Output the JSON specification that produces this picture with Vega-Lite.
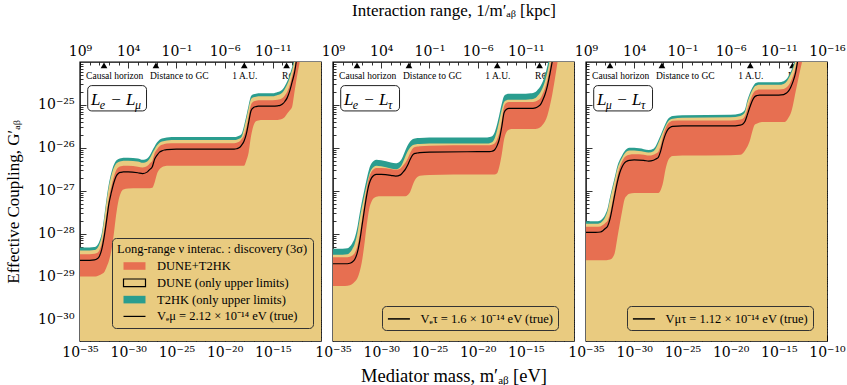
{
"$schema": "https://vega.github.io/schema/vega-lite/v6.json",
"padding": {"left": 3, "top": 0, "right": 0, "bottom": 0},
"bounds": "flush",
"spacing": 12,
"config": {
  "font": "Liberation Serif",
  "view": {"stroke": "black", "strokeWidth": 1.4},
  "axis": {"labelFont": "DejaVu Serif", "titleFont": "Liberation Serif", "labelColor": "black", "titleColor": "black", "titleFontWeight": "normal", "labelFontSize": 14, "titleFontSize": 17, "tickColor": "black", "tickWidth": 0.8, "domain": false, "grid": false, "labelFlush": false, "labelOverlap": false},
  "legend": {"labelFont": "Liberation Serif", "titleFont": "Liberation Serif", "labelColor": "black", "titleColor": "black", "titleFontWeight": "normal"},
  "text": {"font": "Liberation Serif"}
},
"datasets": {
  "sites": [
    {"site": "Causal horizon", "m": -32.51, "mt": -31.4},
    {"site": "Distance to GC", "m": -27.12, "mt": -24.7},
    {"site": "1 A.U.", "m": -17.96, "mt": -17.9},
    {"site": "R⊕", "m": -13.57, "mt": -13.3}
  ],
  "entries": [
    {"entry": "DUNE+T2HK"},
    {"entry": "DUNE (only upper limits)"},
    {"entry": "T2HK (only upper limits)"},
    {"entry": "Vₑμ = 2.12 × 10⁻¹⁴ eV (true)"}
  ],
  "tags": [
    {"p": 1, "kind": "main", "txt": "L", "m": -33.86, "g": -25.0},
    {"p": 1, "kind": "sub", "txt": "e", "m": -32.95, "g": -25.1},
    {"p": 1, "kind": "main", "txt": "− L", "m": -31.85, "g": -25.0},
    {"p": 1, "kind": "sub", "txt": "μ", "m": -29.3, "g": -25.1},
    {"p": 2, "kind": "main", "txt": "L", "m": -33.86, "g": -25.0},
    {"p": 2, "kind": "sub", "txt": "e", "m": -32.95, "g": -25.1},
    {"p": 2, "kind": "main", "txt": "− L", "m": -31.85, "g": -25.0},
    {"p": 2, "kind": "sub", "txt": "τ", "m": -29.3, "g": -25.1},
    {"p": 3, "kind": "main", "txt": "L", "m": -33.86, "g": -25.0},
    {"p": 3, "kind": "sub", "txt": "μ", "m": -32.95, "g": -25.1},
    {"p": 3, "kind": "main", "txt": "− L", "m": -31.85, "g": -25.0},
    {"p": 3, "kind": "sub", "txt": "τ", "m": -29.3, "g": -25.1}
  ],
  "curves": [
{"p":1,"m":-35,"t2hk":-28.32,"dune":-28.39,"hi":-28.48,"v":-28.62,"lo":-29.0},
{"p":1,"m":-34,"t2hk":-28.32,"dune":-28.39,"hi":-28.48,"v":-28.62,"lo":-29.0},
{"p":1,"m":-33.5,"t2hk":-28.31,"dune":-28.38,"hi":-28.47,"v":-28.61,"lo":-29.0},
{"p":1,"m":-33.25,"t2hk":-28.28,"dune":-28.35,"hi":-28.45,"v":-28.59,"lo":-28.99},
{"p":1,"m":-33,"t2hk":-28.18,"dune":-28.25,"hi":-28.39,"v":-28.53,"lo":-28.97},
{"p":1,"m":-32.75,"t2hk":-28.0,"dune":-28.07,"hi":-28.23,"v":-28.37,"lo":-28.94},
{"p":1,"m":-32.5,"t2hk":-27.62,"dune":-27.69,"hi":-27.94,"v":-28.08,"lo":-28.9},
{"p":1,"m":-32.25,"t2hk":-27.19,"dune":-27.26,"hi":-27.56,"v":-27.7,"lo":-28.78},
{"p":1,"m":-32,"t2hk":-26.83,"dune":-26.9,"hi":-27.16,"v":-27.3,"lo":-28.63},
{"p":1,"m":-31.75,"t2hk":-26.58,"dune":-26.65,"hi":-26.9,"v":-27.04,"lo":-28.4},
{"p":1,"m":-31.5,"t2hk":-26.4,"dune":-26.47,"hi":-26.68,"v":-26.82,"lo":-28.02},
{"p":1,"m":-31.25,"t2hk":-26.3,"dune":-26.37,"hi":-26.52,"v":-26.66,"lo":-27.56},
{"p":1,"m":-31,"t2hk":-26.26,"dune":-26.33,"hi":-26.45,"v":-26.59,"lo":-27.22},
{"p":1,"m":-30.75,"t2hk":-26.24,"dune":-26.31,"hi":-26.43,"v":-26.57,"lo":-27.04},
{"p":1,"m":-30.5,"t2hk":-26.23,"dune":-26.3,"hi":-26.42,"v":-26.56,"lo":-26.97},
{"p":1,"m":-30,"t2hk":-26.23,"dune":-26.3,"hi":-26.42,"v":-26.56,"lo":-26.95},
{"p":1,"m":-29,"t2hk":-26.25,"dune":-26.32,"hi":-26.44,"v":-26.58,"lo":-26.94},
{"p":1,"m":-28.5,"t2hk":-26.28,"dune":-26.35,"hi":-26.46,"v":-26.6,"lo":-26.94},
{"p":1,"m":-28,"t2hk":-26.24,"dune":-26.31,"hi":-26.42,"v":-26.56,"lo":-26.94},
{"p":1,"m":-27.75,"t2hk":-26.17,"dune":-26.24,"hi":-26.36,"v":-26.5,"lo":-26.94},
{"p":1,"m":-27.5,"t2hk":-26.06,"dune":-26.13,"hi":-26.3,"v":-26.44,"lo":-26.93},
{"p":1,"m":-27.25,"t2hk":-25.96,"dune":-26.03,"hi":-26.12,"v":-26.26,"lo":-26.8},
{"p":1,"m":-27,"t2hk":-25.87,"dune":-25.94,"hi":-26.03,"v":-26.17,"lo":-26.6},
{"p":1,"m":-26.75,"t2hk":-25.81,"dune":-25.88,"hi":-25.96,"v":-26.1,"lo":-26.5},
{"p":1,"m":-26.5,"t2hk":-25.78,"dune":-25.85,"hi":-25.93,"v":-26.07,"lo":-26.45},
{"p":1,"m":-26.25,"t2hk":-25.77,"dune":-25.84,"hi":-25.91,"v":-26.05,"lo":-26.43},
{"p":1,"m":-26,"t2hk":-25.76,"dune":-25.83,"hi":-25.9,"v":-26.04,"lo":-26.42},
{"p":1,"m":-25,"t2hk":-25.75,"dune":-25.82,"hi":-25.89,"v":-26.03,"lo":-26.42},
{"p":1,"m":-20,"t2hk":-25.75,"dune":-25.82,"hi":-25.89,"v":-26.03,"lo":-26.42},
{"p":1,"m":-19,"t2hk":-25.75,"dune":-25.82,"hi":-25.89,"v":-26.03,"lo":-26.42},
{"p":1,"m":-18.75,"t2hk":-25.74,"dune":-25.81,"hi":-25.88,"v":-26.02,"lo":-26.42},
{"p":1,"m":-18.5,"t2hk":-25.72,"dune":-25.79,"hi":-25.86,"v":-26.0,"lo":-26.42},
{"p":1,"m":-18.25,"t2hk":-25.68,"dune":-25.75,"hi":-25.8,"v":-25.94,"lo":-26.42},
{"p":1,"m":-18,"t2hk":-25.5,"dune":-25.57,"hi":-25.71,"v":-25.85,"lo":-26.42},
{"p":1,"m":-17.75,"t2hk":-25.26,"dune":-25.33,"hi":-25.54,"v":-25.68,"lo":-26.3},
{"p":1,"m":-17.5,"t2hk":-25.0,"dune":-25.07,"hi":-25.26,"v":-25.4,"lo":-26.1},
{"p":1,"m":-17.25,"t2hk":-24.79,"dune":-24.86,"hi":-24.99,"v":-25.13,"lo":-25.72},
{"p":1,"m":-17,"t2hk":-24.75,"dune":-24.82,"hi":-24.92,"v":-25.06,"lo":-25.48},
{"p":1,"m":-16.75,"t2hk":-24.74,"dune":-24.81,"hi":-24.9,"v":-25.04,"lo":-25.38},
{"p":1,"m":-16.5,"t2hk":-24.73,"dune":-24.8,"hi":-24.89,"v":-25.03,"lo":-25.36},
{"p":1,"m":-16,"t2hk":-24.73,"dune":-24.8,"hi":-24.89,"v":-25.03,"lo":-25.35},
{"p":1,"m":-15,"t2hk":-24.73,"dune":-24.8,"hi":-24.89,"v":-25.03,"lo":-25.35},
{"p":1,"m":-14.5,"t2hk":-24.7,"dune":-24.77,"hi":-24.88,"v":-25.02,"lo":-25.35},
{"p":1,"m":-14.25,"t2hk":-24.68,"dune":-24.75,"hi":-24.87,"v":-25.01,"lo":-25.34},
{"p":1,"m":-14,"t2hk":-24.64,"dune":-24.71,"hi":-24.84,"v":-24.98,"lo":-25.32},
{"p":1,"m":-13.75,"t2hk":-24.56,"dune":-24.63,"hi":-24.78,"v":-24.92,"lo":-25.28},
{"p":1,"m":-13.5,"t2hk":-24.45,"dune":-24.52,"hi":-24.69,"v":-24.83,"lo":-25.2},
{"p":1,"m":-13.25,"t2hk":-24.3,"dune":-24.37,"hi":-24.54,"v":-24.68,"lo":-25.13},
{"p":1,"m":-13,"t2hk":-24.12,"dune":-24.19,"hi":-24.33,"v":-24.47,"lo":-25.05},
{"p":1,"m":-12.75,"t2hk":-23.9,"dune":-23.97,"hi":-24.11,"v":-24.25,"lo":-24.7},
{"p":1,"m":-12.5,"t2hk":-23.6,"dune":-23.67,"hi":-23.76,"v":-23.9,"lo":-24.35},
{"p":1,"m":-12.25,"t2hk":-23.3,"dune":-23.37,"hi":-23.46,"v":-23.6,"lo":-24.05},
{"p":1,"m":-12,"t2hk":-23.0,"dune":-23.07,"hi":-23.16,"v":-23.3,"lo":-23.75},
{"p":1,"m":-11.5,"t2hk":-22.4,"dune":-22.47,"hi":-22.56,"v":-22.7,"lo":-23.1},
{"p":1,"m":-11,"t2hk":-21.8,"dune":-21.87,"hi":-21.96,"v":-22.1,"lo":-22.5},
{"p":1,"m":-10,"t2hk":-20.6,"dune":-20.67,"hi":-20.76,"v":-20.9,"lo":-21.3},
{"p":2,"m":-35,"t2hk":-28.35,"dune":-28.49,"hi":-28.55,"v":-28.7,"lo":-29.22},
{"p":2,"m":-34,"t2hk":-28.35,"dune":-28.49,"hi":-28.55,"v":-28.7,"lo":-29.22},
{"p":2,"m":-33.5,"t2hk":-28.34,"dune":-28.48,"hi":-28.55,"v":-28.7,"lo":-29.21},
{"p":2,"m":-33.25,"t2hk":-28.3,"dune":-28.44,"hi":-28.54,"v":-28.69,"lo":-29.2},
{"p":2,"m":-33,"t2hk":-28.22,"dune":-28.36,"hi":-28.51,"v":-28.66,"lo":-29.17},
{"p":2,"m":-32.75,"t2hk":-28.1,"dune":-28.24,"hi":-28.45,"v":-28.6,"lo":-29.12},
{"p":2,"m":-32.5,"t2hk":-27.88,"dune":-28.02,"hi":-28.31,"v":-28.46,"lo":-29.05},
{"p":2,"m":-32.25,"t2hk":-27.55,"dune":-27.69,"hi":-28.05,"v":-28.2,"lo":-28.9},
{"p":2,"m":-32,"t2hk":-27.25,"dune":-27.39,"hi":-27.68,"v":-27.83,"lo":-28.65},
{"p":2,"m":-31.75,"t2hk":-26.98,"dune":-27.12,"hi":-27.3,"v":-27.45,"lo":-28.26},
{"p":2,"m":-31.5,"t2hk":-26.72,"dune":-26.86,"hi":-26.95,"v":-27.1,"lo":-27.8},
{"p":2,"m":-31.25,"t2hk":-26.49,"dune":-26.63,"hi":-26.69,"v":-26.84,"lo":-27.43},
{"p":2,"m":-31,"t2hk":-26.36,"dune":-26.5,"hi":-26.55,"v":-26.7,"lo":-27.25},
{"p":2,"m":-30.75,"t2hk":-26.3,"dune":-26.44,"hi":-26.49,"v":-26.64,"lo":-27.17},
{"p":2,"m":-30.5,"t2hk":-26.28,"dune":-26.42,"hi":-26.47,"v":-26.62,"lo":-27.14},
{"p":2,"m":-30,"t2hk":-26.29,"dune":-26.43,"hi":-26.47,"v":-26.62,"lo":-27.13},
{"p":2,"m":-29,"t2hk":-26.34,"dune":-26.48,"hi":-26.49,"v":-26.64,"lo":-27.13},
{"p":2,"m":-28.5,"t2hk":-26.36,"dune":-26.5,"hi":-26.51,"v":-26.66,"lo":-27.13},
{"p":2,"m":-28,"t2hk":-26.3,"dune":-26.44,"hi":-26.48,"v":-26.63,"lo":-27.13},
{"p":2,"m":-27.75,"t2hk":-26.2,"dune":-26.34,"hi":-26.42,"v":-26.57,"lo":-27.13},
{"p":2,"m":-27.5,"t2hk":-26.06,"dune":-26.2,"hi":-26.35,"v":-26.5,"lo":-27.13},
{"p":2,"m":-27.25,"t2hk":-25.94,"dune":-26.08,"hi":-26.25,"v":-26.4,"lo":-27.1},
{"p":2,"m":-27,"t2hk":-25.85,"dune":-25.99,"hi":-26.12,"v":-26.27,"lo":-27.03},
{"p":2,"m":-26.75,"t2hk":-25.8,"dune":-25.94,"hi":-26.02,"v":-26.17,"lo":-26.88},
{"p":2,"m":-26.5,"t2hk":-25.78,"dune":-25.92,"hi":-25.98,"v":-26.13,"lo":-26.75},
{"p":2,"m":-26.25,"t2hk":-25.77,"dune":-25.91,"hi":-25.97,"v":-26.12,"lo":-26.68},
{"p":2,"m":-26,"t2hk":-25.77,"dune":-25.91,"hi":-25.96,"v":-26.11,"lo":-26.65},
{"p":2,"m":-25,"t2hk":-25.76,"dune":-25.9,"hi":-25.95,"v":-26.1,"lo":-26.63},
{"p":2,"m":-20,"t2hk":-25.76,"dune":-25.9,"hi":-25.94,"v":-26.09,"lo":-26.62},
{"p":2,"m":-19,"t2hk":-25.76,"dune":-25.9,"hi":-25.94,"v":-26.09,"lo":-26.62},
{"p":2,"m":-18.75,"t2hk":-25.75,"dune":-25.89,"hi":-25.94,"v":-26.09,"lo":-26.62},
{"p":2,"m":-18.5,"t2hk":-25.73,"dune":-25.87,"hi":-25.93,"v":-26.08,"lo":-26.62},
{"p":2,"m":-18.25,"t2hk":-25.65,"dune":-25.79,"hi":-25.9,"v":-26.05,"lo":-26.62},
{"p":2,"m":-18,"t2hk":-25.47,"dune":-25.61,"hi":-25.81,"v":-25.96,"lo":-26.6},
{"p":2,"m":-17.75,"t2hk":-25.23,"dune":-25.37,"hi":-25.65,"v":-25.8,"lo":-26.44},
{"p":2,"m":-17.5,"t2hk":-24.98,"dune":-25.12,"hi":-25.37,"v":-25.52,"lo":-26.16},
{"p":2,"m":-17.25,"t2hk":-24.79,"dune":-24.93,"hi":-25.03,"v":-25.18,"lo":-25.8},
{"p":2,"m":-17,"t2hk":-24.75,"dune":-24.89,"hi":-24.95,"v":-25.1,"lo":-25.63},
{"p":2,"m":-16.75,"t2hk":-24.74,"dune":-24.88,"hi":-24.93,"v":-25.08,"lo":-25.58},
{"p":2,"m":-16.5,"t2hk":-24.74,"dune":-24.88,"hi":-24.93,"v":-25.08,"lo":-25.56},
{"p":2,"m":-16,"t2hk":-24.74,"dune":-24.88,"hi":-24.93,"v":-25.08,"lo":-25.56},
{"p":2,"m":-15,"t2hk":-24.74,"dune":-24.88,"hi":-24.93,"v":-25.08,"lo":-25.56},
{"p":2,"m":-14.5,"t2hk":-24.73,"dune":-24.87,"hi":-24.93,"v":-25.08,"lo":-25.56},
{"p":2,"m":-14.25,"t2hk":-24.72,"dune":-24.86,"hi":-24.93,"v":-25.08,"lo":-25.56},
{"p":2,"m":-14,"t2hk":-24.7,"dune":-24.84,"hi":-24.92,"v":-25.07,"lo":-25.56},
{"p":2,"m":-13.75,"t2hk":-24.64,"dune":-24.78,"hi":-24.89,"v":-25.04,"lo":-25.55},
{"p":2,"m":-13.5,"t2hk":-24.57,"dune":-24.71,"hi":-24.85,"v":-25.0,"lo":-25.52},
{"p":2,"m":-13.25,"t2hk":-24.46,"dune":-24.6,"hi":-24.74,"v":-24.89,"lo":-25.46},
{"p":2,"m":-13,"t2hk":-24.3,"dune":-24.44,"hi":-24.6,"v":-24.75,"lo":-25.38},
{"p":2,"m":-12.75,"t2hk":-24.08,"dune":-24.22,"hi":-24.4,"v":-24.55,"lo":-25.24},
{"p":2,"m":-12.5,"t2hk":-23.8,"dune":-23.94,"hi":-24.13,"v":-24.28,"lo":-25.02},
{"p":2,"m":-12.25,"t2hk":-23.5,"dune":-23.64,"hi":-23.83,"v":-23.98,"lo":-24.75},
{"p":2,"m":-12,"t2hk":-23.2,"dune":-23.34,"hi":-23.5,"v":-23.65,"lo":-24.42},
{"p":2,"m":-11.5,"t2hk":-22.6,"dune":-22.74,"hi":-22.85,"v":-23.0,"lo":-23.7},
{"p":2,"m":-11,"t2hk":-22.0,"dune":-22.14,"hi":-22.25,"v":-22.4,"lo":-23.0},
{"p":2,"m":-10,"t2hk":-20.8,"dune":-20.94,"hi":-21.05,"v":-21.2,"lo":-21.8},
{"p":3,"m":-35,"t2hk":-27.71,"dune":-27.77,"hi":-27.84,"v":-27.97,"lo":-28.62},
{"p":3,"m":-34,"t2hk":-27.71,"dune":-27.77,"hi":-27.84,"v":-27.97,"lo":-28.62},
{"p":3,"m":-33.5,"t2hk":-27.69,"dune":-27.75,"hi":-27.83,"v":-27.96,"lo":-28.62},
{"p":3,"m":-33.25,"t2hk":-27.64,"dune":-27.7,"hi":-27.8,"v":-27.93,"lo":-28.62},
{"p":3,"m":-33,"t2hk":-27.55,"dune":-27.61,"hi":-27.75,"v":-27.88,"lo":-28.62},
{"p":3,"m":-32.75,"t2hk":-27.4,"dune":-27.46,"hi":-27.69,"v":-27.82,"lo":-28.61},
{"p":3,"m":-32.5,"t2hk":-27.14,"dune":-27.2,"hi":-27.52,"v":-27.65,"lo":-28.6},
{"p":3,"m":-32.25,"t2hk":-26.9,"dune":-26.96,"hi":-27.24,"v":-27.37,"lo":-28.56},
{"p":3,"m":-32,"t2hk":-26.67,"dune":-26.73,"hi":-26.94,"v":-27.07,"lo":-28.43},
{"p":3,"m":-31.75,"t2hk":-26.43,"dune":-26.49,"hi":-26.67,"v":-26.8,"lo":-28.1},
{"p":3,"m":-31.5,"t2hk":-26.28,"dune":-26.34,"hi":-26.45,"v":-26.58,"lo":-27.78},
{"p":3,"m":-31.25,"t2hk":-26.17,"dune":-26.23,"hi":-26.31,"v":-26.44,"lo":-27.47},
{"p":3,"m":-31,"t2hk":-26.08,"dune":-26.14,"hi":-26.22,"v":-26.35,"lo":-27.2},
{"p":3,"m":-30.75,"t2hk":-26.02,"dune":-26.08,"hi":-26.18,"v":-26.31,"lo":-27.11},
{"p":3,"m":-30.5,"t2hk":-26.0,"dune":-26.06,"hi":-26.16,"v":-26.29,"lo":-27.07},
{"p":3,"m":-30,"t2hk":-26.0,"dune":-26.06,"hi":-26.15,"v":-26.28,"lo":-27.05},
{"p":3,"m":-29,"t2hk":-26.03,"dune":-26.09,"hi":-26.16,"v":-26.29,"lo":-27.05},
{"p":3,"m":-28.5,"t2hk":-26.05,"dune":-26.11,"hi":-26.18,"v":-26.31,"lo":-27.05},
{"p":3,"m":-28,"t2hk":-26.02,"dune":-26.08,"hi":-26.16,"v":-26.29,"lo":-27.05},
{"p":3,"m":-27.75,"t2hk":-25.95,"dune":-26.01,"hi":-26.13,"v":-26.26,"lo":-27.05},
{"p":3,"m":-27.5,"t2hk":-25.83,"dune":-25.89,"hi":-26.09,"v":-26.22,"lo":-27.05},
{"p":3,"m":-27.25,"t2hk":-25.7,"dune":-25.76,"hi":-25.94,"v":-26.07,"lo":-26.98},
{"p":3,"m":-27,"t2hk":-25.56,"dune":-25.62,"hi":-25.72,"v":-25.85,"lo":-26.8},
{"p":3,"m":-26.75,"t2hk":-25.43,"dune":-25.49,"hi":-25.55,"v":-25.68,"lo":-26.5},
{"p":3,"m":-26.5,"t2hk":-25.33,"dune":-25.39,"hi":-25.44,"v":-25.57,"lo":-26.3},
{"p":3,"m":-26.25,"t2hk":-25.28,"dune":-25.34,"hi":-25.39,"v":-25.52,"lo":-26.22},
{"p":3,"m":-26,"t2hk":-25.26,"dune":-25.32,"hi":-25.37,"v":-25.5,"lo":-26.19},
{"p":3,"m":-25,"t2hk":-25.24,"dune":-25.3,"hi":-25.36,"v":-25.49,"lo":-26.18},
{"p":3,"m":-20,"t2hk":-25.23,"dune":-25.29,"hi":-25.36,"v":-25.49,"lo":-26.17},
{"p":3,"m":-19,"t2hk":-25.2,"dune":-25.26,"hi":-25.34,"v":-25.47,"lo":-26.16},
{"p":3,"m":-18.75,"t2hk":-25.17,"dune":-25.23,"hi":-25.32,"v":-25.45,"lo":-26.13},
{"p":3,"m":-18.5,"t2hk":-25.1,"dune":-25.16,"hi":-25.25,"v":-25.38,"lo":-26.06},
{"p":3,"m":-18.25,"t2hk":-24.88,"dune":-24.94,"hi":-25.09,"v":-25.22,"lo":-25.97},
{"p":3,"m":-18,"t2hk":-24.72,"dune":-24.78,"hi":-24.92,"v":-25.05,"lo":-25.83},
{"p":3,"m":-17.75,"t2hk":-24.6,"dune":-24.66,"hi":-24.77,"v":-24.9,"lo":-25.62},
{"p":3,"m":-17.5,"t2hk":-24.51,"dune":-24.57,"hi":-24.68,"v":-24.81,"lo":-25.46},
{"p":3,"m":-17.25,"t2hk":-24.48,"dune":-24.54,"hi":-24.65,"v":-24.78,"lo":-25.43},
{"p":3,"m":-17,"t2hk":-24.47,"dune":-24.53,"hi":-24.64,"v":-24.77,"lo":-25.41},
{"p":3,"m":-16.75,"t2hk":-24.47,"dune":-24.53,"hi":-24.64,"v":-24.77,"lo":-25.4},
{"p":3,"m":-16.5,"t2hk":-24.47,"dune":-24.53,"hi":-24.64,"v":-24.77,"lo":-25.4},
{"p":3,"m":-16,"t2hk":-24.47,"dune":-24.53,"hi":-24.64,"v":-24.77,"lo":-25.4},
{"p":3,"m":-15,"t2hk":-24.47,"dune":-24.53,"hi":-24.64,"v":-24.77,"lo":-25.4},
{"p":3,"m":-14.5,"t2hk":-24.45,"dune":-24.51,"hi":-24.63,"v":-24.76,"lo":-25.4},
{"p":3,"m":-14.25,"t2hk":-24.41,"dune":-24.47,"hi":-24.6,"v":-24.73,"lo":-25.38},
{"p":3,"m":-14,"t2hk":-24.33,"dune":-24.39,"hi":-24.55,"v":-24.68,"lo":-25.3},
{"p":3,"m":-13.75,"t2hk":-24.22,"dune":-24.28,"hi":-24.45,"v":-24.58,"lo":-25.19},
{"p":3,"m":-13.5,"t2hk":-24.08,"dune":-24.14,"hi":-24.31,"v":-24.44,"lo":-24.97},
{"p":3,"m":-13.25,"t2hk":-23.9,"dune":-23.96,"hi":-24.11,"v":-24.24,"lo":-24.69},
{"p":3,"m":-13,"t2hk":-23.7,"dune":-23.76,"hi":-23.79,"v":-23.92,"lo":-24.42},
{"p":3,"m":-12.75,"t2hk":-23.45,"dune":-23.51,"hi":-23.49,"v":-23.62,"lo":-24.16},
{"p":3,"m":-12.5,"t2hk":-23.2,"dune":-23.26,"hi":-23.22,"v":-23.35,"lo":-23.9},
{"p":3,"m":-12.25,"t2hk":-22.9,"dune":-22.96,"hi":-22.94,"v":-23.07,"lo":-23.62},
{"p":3,"m":-12,"t2hk":-22.6,"dune":-22.66,"hi":-22.67,"v":-22.8,"lo":-23.35},
{"p":3,"m":-11.5,"t2hk":-22.0,"dune":-22.06,"hi":-22.07,"v":-22.2,"lo":-22.8},
{"p":3,"m":-11,"t2hk":-21.4,"dune":-21.46,"hi":-21.47,"v":-21.6,"lo":-22.2},
{"p":3,"m":-10,"t2hk":-20.2,"dune":-20.26,"hi":-20.27,"v":-20.4,"lo":-21.0}
  ]
},
"resolve": {"scale": {"fill": "independent", "stroke": "independent", "shape": "independent"}, "legend": {"fill": "independent", "stroke": "independent", "shape": "independent"}},
"hconcat": [
{
  "width": 241, "height": 279,
  "resolve": {"axis": {"x": "independent", "y": "independent"}},
  "layer": [
    {"data": {"name": "sites"}, "mark": {"type": "point", "shape": "triangle-up", "filled": true, "color": "black", "size": 45, "opacity": 1},
     "encoding": {"x": {"field": "m", "type": "quantitative", "scale": {"domain": [-35, -10], "nice": false, "zero": false}, "axis": null},
                  "y": {"datum": -24.08, "type": "quantitative", "scale": {"domain": [-30.5, -24], "nice": false, "zero": false}, "axis": null}}},
    {"data": {"name": "sites"}, "mark": {"type": "text", "fontSize": 9.5, "baseline": "middle", "color": "black"},
     "encoding": {"x": {"field": "mt", "type": "quantitative", "axis": null}, "y": {"datum": -24.33, "type": "quantitative", "axis": null}, "text": {"field": "site"}}},
    {"data": {"name": "curves"}, "transform": [{"filter": "datum.p === 1"}],
     "mark": {"type": "area", "clip": true, "interpolate": "monotone", "fill": "#2A9D8F"},
     "encoding": {
       "x": {"field": "m", "type": "quantitative", "axis": {"orient": "bottom", "title": null, "values": [-35,-30,-25,-20,-15], "labelExpr": "datum.value === -35 ? '10⁻³⁵' : datum.value === -30 ? '10⁻³⁰' : datum.value === -25 ? '10⁻²⁵' : datum.value === -20 ? '10⁻²⁰' : datum.value === -15 ? '10⁻¹⁵' : ''", "offset": -6, "tickSize": 6, "labelPadding": 4}},
       "y": {"field": "t2hk", "type": "quantitative", "axis": {"orient": "left", "title": "Effective Coupling, G′ₐᵦ", "titlePadding": 15, "values": [-30,-29,-28,-27,-26,-25], "labelExpr": "datum.value === -25 ? '10⁻²⁵' : datum.value === -26 ? '10⁻²⁶' : datum.value === -27 ? '10⁻²⁷' : datum.value === -28 ? '10⁻²⁸' : datum.value === -29 ? '10⁻²⁹' : datum.value === -30 ? '10⁻³⁰' : ''", "offset": -6, "tickSize": 6, "labelPadding": 6}},
       "y2": {"datum": -31}
     }},
    {"data": {"name": "curves"}, "transform": [{"filter": "datum.p === 1"}],
     "mark": {"type": "area", "clip": true, "interpolate": "monotone", "fill": "#E9CB80"},
     "encoding": {"x": {"field": "m", "type": "quantitative", "axis": {"orient": "bottom", "title": null, "labels": false, "values": [-34,-33,-32,-31,-29,-28,-27,-26,-24,-23,-22,-21,-19,-18,-17,-16,-14,-13,-12,-11], "offset": -3, "tickSize": 3}},
       "y": {"field": "dune", "type": "quantitative", "axis": {"orient": "left", "title": null, "labels": false, "values": [-30.398,-30.301,-30.222,-30.155,-30.097,-30.046,-29.699,-29.523,-29.398,-29.301,-29.222,-29.155,-29.097,-29.046,-28.699,-28.523,-28.398,-28.301,-28.222,-28.155,-28.097,-28.046,-27.699,-27.523,-27.398,-27.301,-27.222,-27.155,-27.097,-27.046,-26.699,-26.523,-26.398,-26.301,-26.222,-26.155,-26.097,-26.046,-25.699,-25.523,-25.398,-25.301,-25.222,-25.155,-25.097,-25.046,-24.699,-24.523,-24.398,-24.301,-24.222,-24.155,-24.097,-24.046], "offset": -3, "tickSize": 3}},
       "y2": {"datum": -31}}},
    {"data": {"name": "curves"}, "transform": [{"filter": "datum.p === 1"}],
     "mark": {"type": "area", "clip": true, "interpolate": "monotone", "fill": "#E76F51"},
     "encoding": {"x": {"field": "m", "type": "quantitative", "axis": {"orient": "top", "title": null, "values": [-35,-30,-25,-20,-15], "labelExpr": "datum.value === -35 ? '10⁹' : datum.value === -30 ? '10⁴' : datum.value === -25 ? '10⁻¹' : datum.value === -20 ? '10⁻⁶' : datum.value === -15 ? '10⁻¹¹' : ''", "offset": -6, "tickSize": 6, "labelPadding": 4}},
       "y": {"field": "hi", "type": "quantitative", "axis": {"orient": "right", "title": null, "labels": false, "values": [-30,-29,-28,-27,-26,-25], "offset": -6, "tickSize": 6}},
       "y2": {"field": "lo"}}},
    {"data": {"name": "curves"}, "transform": [{"filter": "datum.p === 1"}],
     "mark": {"type": "line", "clip": true, "interpolate": "monotone", "color": "black", "strokeWidth": 1.2},
     "encoding": {
       "x": {"field": "m", "type": "quantitative", "axis": {"orient": "top", "title": null, "labels": false, "values": [-34,-33,-32,-31,-29,-28,-27,-26,-24,-23,-22,-21,-19,-18,-17,-16,-14,-13,-12,-11], "offset": -3, "tickSize": 3}},
       "y": {"field": "v", "type": "quantitative", "axis": {"orient": "right", "title": null, "labels": false, "values": [-30.398,-30.301,-30.222,-30.155,-30.097,-30.046,-29.699,-29.523,-29.398,-29.301,-29.222,-29.155,-29.097,-29.046,-28.699,-28.523,-28.398,-28.301,-28.222,-28.155,-28.097,-28.046,-27.699,-27.523,-27.398,-27.301,-27.222,-27.155,-27.097,-27.046,-26.699,-26.523,-26.398,-26.301,-26.222,-26.155,-26.097,-26.046,-25.699,-25.523,-25.398,-25.301,-25.222,-25.155,-25.097,-25.046,-24.699,-24.523,-24.398,-24.301,-24.222,-24.155,-24.097,-24.046], "offset": -3, "tickSize": 3}}
     }},
    {"data": {"name": "entries"},
     "mark": {"type": "point", "clip": true, "filled": true, "opacity": 1, "size": 230, "strokeWidth": 1.2},
     "encoding": {
       "x": {"datum": -40, "type": "quantitative", "axis": null},
       "y": {"datum": -40, "type": "quantitative", "axis": null},
       "shape": {"field": "entry", "type": "nominal",
         "scale": {"domain": ["DUNE+T2HK", "DUNE (only upper limits)", "T2HK (only upper limits)", "Vₑμ = 2.12 × 10⁻¹⁴ eV (true)"], "range": ["M-1.45,-0.5H1.45V0.5H-1.45Z", "M-1.45,-0.5H1.45V0.5H-1.45Z", "M-1.45,-0.5H1.45V0.5H-1.45Z", "M-1.45,0H1.45"]},
         "legend": {"title": "Long-range ν interac. : discovery (3σ)", "orient": "none", "legendX": 32, "legendY": 176, "titleLimit": 400, "labelLimit": 400, "titleFontSize": 12.5, "titlePadding": 2, "labelFontSize": 12.5, "labelOffset": 14, "symbolSize": 230, "symbolStrokeWidth": 1.2, "symbolOffset": 9, "rowPadding": 1.8, "padding": 5, "fillColor": "#E9CB80", "strokeColor": "#333333", "cornerRadius": 4}},
       "fill": {"field": "entry", "type": "nominal",
         "scale": {"domain": ["DUNE+T2HK", "DUNE (only upper limits)", "T2HK (only upper limits)", "Vₑμ = 2.12 × 10⁻¹⁴ eV (true)"], "range": ["#E76F51", "#E9CB80", "#2A9D8F", "transparent"]},
         "legend": {"title": "Long-range ν interac. : discovery (3σ)", "orient": "none", "legendX": 32, "legendY": 176, "titleLimit": 400, "labelLimit": 400, "titleFontSize": 12.5, "titlePadding": 2, "labelFontSize": 12.5, "labelOffset": 14, "symbolSize": 230, "symbolStrokeWidth": 1.2, "symbolOffset": 9, "rowPadding": 1.8, "padding": 5, "fillColor": "#E9CB80", "strokeColor": "#333333", "cornerRadius": 4}},
       "stroke": {"field": "entry", "type": "nominal",
         "scale": {"domain": ["DUNE+T2HK", "DUNE (only upper limits)", "T2HK (only upper limits)", "Vₑμ = 2.12 × 10⁻¹⁴ eV (true)"], "range": ["transparent", "#000000", "transparent", "#000000"]},
         "legend": {"title": "Long-range ν interac. : discovery (3σ)", "orient": "none", "legendX": 32, "legendY": 176, "titleLimit": 400, "labelLimit": 400, "titleFontSize": 12.5, "titlePadding": 2, "labelFontSize": 12.5, "labelOffset": 14, "symbolSize": 230, "symbolStrokeWidth": 1.2, "symbolOffset": 9, "rowPadding": 1.8, "padding": 5, "fillColor": "#E9CB80", "strokeColor": "#333333", "cornerRadius": 4}}
     }},
    {"data": {"values": [{}]}, "mark": {"type": "rect", "fill": "white", "stroke": "#222222", "strokeWidth": 1, "cornerRadius": 4},
     "encoding": {"x": {"datum": -34.2, "type": "quantitative", "axis": null}, "x2": {"datum": -28.1}, "y": {"datum": -24.55, "type": "quantitative", "axis": null}, "y2": {"datum": -25.14}}},
    {"data": {"name": "tags"}, "transform": [{"filter": "datum.p === 1 && datum.kind === 'main'"}],
     "mark": {"type": "text", "fontSize": 17, "fontStyle": "italic", "align": "left", "baseline": "alphabetic", "color": "black"},
     "encoding": {"x": {"field": "m", "type": "quantitative", "axis": null}, "y": {"field": "g", "type": "quantitative", "axis": null}, "text": {"field": "txt"}}},
    {"data": {"name": "tags"}, "transform": [{"filter": "datum.p === 1 && datum.kind === 'sub'"}],
     "mark": {"type": "text", "fontSize": 12, "fontStyle": "italic", "align": "left", "baseline": "alphabetic", "color": "black"},
     "encoding": {"x": {"field": "m", "type": "quantitative", "axis": null}, "y": {"field": "g", "type": "quantitative", "axis": null}, "text": {"field": "txt"}}}
  ]
},
{
  "width": 241, "height": 279,
  "resolve": {"axis": {"x": "independent", "y": "independent"}},
  "layer": [
    {"data": {"name": "sites"}, "mark": {"type": "point", "shape": "triangle-up", "filled": true, "color": "black", "size": 45, "opacity": 1},
     "encoding": {"x": {"field": "m", "type": "quantitative", "scale": {"domain": [-35, -10], "nice": false, "zero": false}, "axis": null},
                  "y": {"datum": -24.08, "type": "quantitative", "scale": {"domain": [-30.5, -24], "nice": false, "zero": false}, "axis": null}}},
    {"data": {"name": "sites"}, "mark": {"type": "text", "fontSize": 9.5, "baseline": "middle", "color": "black"},
     "encoding": {"x": {"field": "mt", "type": "quantitative", "axis": null}, "y": {"datum": -24.33, "type": "quantitative", "axis": null}, "text": {"field": "site"}}},
    {"data": {"name": "curves"}, "transform": [{"filter": "datum.p === 2"}],
     "mark": {"type": "area", "clip": true, "interpolate": "monotone", "fill": "#2A9D8F"},
     "encoding": {
       "x": {"field": "m", "type": "quantitative", "axis": {"orient": "bottom", "title": "Mediator mass, m′ₐᵦ [eV]", "titleFontSize": 18.5, "titlePadding": 7, "values": [-35,-30,-25,-20,-15], "labelExpr": "datum.value === -35 ? '10⁻³⁵' : datum.value === -30 ? '10⁻³⁰' : datum.value === -25 ? '10⁻²⁵' : datum.value === -20 ? '10⁻²⁰' : datum.value === -15 ? '10⁻¹⁵' : ''", "offset": -6, "tickSize": 6, "labelPadding": 4}},
       "y": {"field": "t2hk", "type": "quantitative", "axis": {"orient": "left", "title": null, "labels": false, "values": [-30,-29,-28,-27,-26,-25], "offset": -6, "tickSize": 6}},
       "y2": {"datum": -31}
     }},
    {"data": {"name": "curves"}, "transform": [{"filter": "datum.p === 2"}],
     "mark": {"type": "area", "clip": true, "interpolate": "monotone", "fill": "#E9CB80"},
     "encoding": {"x": {"field": "m", "type": "quantitative", "axis": {"orient": "bottom", "title": null, "labels": false, "values": [-34,-33,-32,-31,-29,-28,-27,-26,-24,-23,-22,-21,-19,-18,-17,-16,-14,-13,-12,-11], "offset": -3, "tickSize": 3}},
       "y": {"field": "dune", "type": "quantitative", "axis": {"orient": "left", "title": null, "labels": false, "values": [-30.398,-30.301,-30.222,-30.155,-30.097,-30.046,-29.699,-29.523,-29.398,-29.301,-29.222,-29.155,-29.097,-29.046,-28.699,-28.523,-28.398,-28.301,-28.222,-28.155,-28.097,-28.046,-27.699,-27.523,-27.398,-27.301,-27.222,-27.155,-27.097,-27.046,-26.699,-26.523,-26.398,-26.301,-26.222,-26.155,-26.097,-26.046,-25.699,-25.523,-25.398,-25.301,-25.222,-25.155,-25.097,-25.046,-24.699,-24.523,-24.398,-24.301,-24.222,-24.155,-24.097,-24.046], "offset": -3, "tickSize": 3}},
       "y2": {"datum": -31}}},
    {"data": {"name": "curves"}, "transform": [{"filter": "datum.p === 2"}],
     "mark": {"type": "area", "clip": true, "interpolate": "monotone", "fill": "#E76F51"},
     "encoding": {"x": {"field": "m", "type": "quantitative", "axis": {"orient": "top", "title": "Interaction range, 1/m′ₐᵦ [kpc]", "titlePadding": 25, "values": [-35,-30,-25,-20,-15], "labelExpr": "datum.value === -35 ? '10⁹' : datum.value === -30 ? '10⁴' : datum.value === -25 ? '10⁻¹' : datum.value === -20 ? '10⁻⁶' : datum.value === -15 ? '10⁻¹¹' : ''", "offset": -6, "tickSize": 6, "labelPadding": 4}},
       "y": {"field": "hi", "type": "quantitative", "axis": {"orient": "right", "title": null, "labels": false, "values": [-30,-29,-28,-27,-26,-25], "offset": -6, "tickSize": 6}},
       "y2": {"field": "lo"}}},
    {"data": {"name": "curves"}, "transform": [{"filter": "datum.p === 2"}],
     "mark": {"type": "line", "clip": true, "interpolate": "monotone", "strokeWidth": 1.2},
     "encoding": {
       "x": {"field": "m", "type": "quantitative", "axis": {"orient": "top", "title": null, "labels": false, "values": [-34,-33,-32,-31,-29,-28,-27,-26,-24,-23,-22,-21,-19,-18,-17,-16,-14,-13,-12,-11], "offset": -3, "tickSize": 3}},
       "y": {"field": "v", "type": "quantitative", "axis": {"orient": "right", "title": null, "labels": false, "values": [-30.398,-30.301,-30.222,-30.155,-30.097,-30.046,-29.699,-29.523,-29.398,-29.301,-29.222,-29.155,-29.097,-29.046,-28.699,-28.523,-28.398,-28.301,-28.222,-28.155,-28.097,-28.046,-27.699,-27.523,-27.398,-27.301,-27.222,-27.155,-27.097,-27.046,-26.699,-26.523,-26.398,-26.301,-26.222,-26.155,-26.097,-26.046,-25.699,-25.523,-25.398,-25.301,-25.222,-25.155,-25.097,-25.046,-24.699,-24.523,-24.398,-24.301,-24.222,-24.155,-24.097,-24.046], "offset": -3, "tickSize": 3}},
       "stroke": {"datum": "Vₑτ = 1.6 × 10⁻¹⁴ eV (true)", "type": "nominal", "scale": {"range": ["#000000"]},
         "legend": {"title": null, "orient": "none", "legendX": 49, "legendY": 244, "symbolType": "M-1.45,0H1.45", "symbolSize": 230, "symbolStrokeWidth": 1.5, "labelFontSize": 12.5, "labelLimit": 400, "padding": 4.4, "symbolOffset": 4, "labelOffset": 13, "fillColor": "#E9CB80", "strokeColor": "#333333", "cornerRadius": 4}}
     }},
    {"data": {"values": [{}]}, "mark": {"type": "rect", "fill": "white", "stroke": "#222222", "strokeWidth": 1, "cornerRadius": 4},
     "encoding": {"x": {"datum": -34.2, "type": "quantitative", "axis": null}, "x2": {"datum": -28.1}, "y": {"datum": -24.55, "type": "quantitative", "axis": null}, "y2": {"datum": -25.14}}},
    {"data": {"name": "tags"}, "transform": [{"filter": "datum.p === 2 && datum.kind === 'main'"}],
     "mark": {"type": "text", "fontSize": 17, "fontStyle": "italic", "align": "left", "baseline": "alphabetic", "color": "black"},
     "encoding": {"x": {"field": "m", "type": "quantitative", "axis": null}, "y": {"field": "g", "type": "quantitative", "axis": null}, "text": {"field": "txt"}}},
    {"data": {"name": "tags"}, "transform": [{"filter": "datum.p === 2 && datum.kind === 'sub'"}],
     "mark": {"type": "text", "fontSize": 12, "fontStyle": "italic", "align": "left", "baseline": "alphabetic", "color": "black"},
     "encoding": {"x": {"field": "m", "type": "quantitative", "axis": null}, "y": {"field": "g", "type": "quantitative", "axis": null}, "text": {"field": "txt"}}}
  ]
},
{
  "width": 241, "height": 279,
  "resolve": {"axis": {"x": "independent", "y": "independent"}},
  "layer": [
    {"data": {"name": "sites"}, "mark": {"type": "point", "shape": "triangle-up", "filled": true, "color": "black", "size": 45, "opacity": 1},
     "encoding": {"x": {"field": "m", "type": "quantitative", "scale": {"domain": [-35, -10], "nice": false, "zero": false}, "axis": null},
                  "y": {"datum": -24.08, "type": "quantitative", "scale": {"domain": [-30.5, -24], "nice": false, "zero": false}, "axis": null}}},
    {"data": {"name": "sites"}, "mark": {"type": "text", "fontSize": 9.5, "baseline": "middle", "color": "black"},
     "encoding": {"x": {"field": "mt", "type": "quantitative", "axis": null}, "y": {"datum": -24.33, "type": "quantitative", "axis": null}, "text": {"field": "site"}}},
    {"data": {"name": "curves"}, "transform": [{"filter": "datum.p === 3"}],
     "mark": {"type": "area", "clip": true, "interpolate": "monotone", "fill": "#2A9D8F"},
     "encoding": {
       "x": {"field": "m", "type": "quantitative", "axis": {"orient": "bottom", "title": null, "values": [-35,-30,-25,-20,-15,-10], "labelExpr": "datum.value === -35 ? '10⁻³⁵' : datum.value === -30 ? '10⁻³⁰' : datum.value === -25 ? '10⁻²⁵' : datum.value === -20 ? '10⁻²⁰' : datum.value === -15 ? '10⁻¹⁵' : datum.value === -10 ? '10⁻¹⁰' : ''", "offset": -6, "tickSize": 6, "labelPadding": 4}},
       "y": {"field": "t2hk", "type": "quantitative", "axis": {"orient": "left", "title": null, "labels": false, "values": [-30,-29,-28,-27,-26,-25], "offset": -6, "tickSize": 6}},
       "y2": {"datum": -31}
     }},
    {"data": {"name": "curves"}, "transform": [{"filter": "datum.p === 3"}],
     "mark": {"type": "area", "clip": true, "interpolate": "monotone", "fill": "#E9CB80"},
     "encoding": {"x": {"field": "m", "type": "quantitative", "axis": {"orient": "bottom", "title": null, "labels": false, "values": [-34,-33,-32,-31,-29,-28,-27,-26,-24,-23,-22,-21,-19,-18,-17,-16,-14,-13,-12,-11], "offset": -3, "tickSize": 3}},
       "y": {"field": "dune", "type": "quantitative", "axis": {"orient": "left", "title": null, "labels": false, "values": [-30.398,-30.301,-30.222,-30.155,-30.097,-30.046,-29.699,-29.523,-29.398,-29.301,-29.222,-29.155,-29.097,-29.046,-28.699,-28.523,-28.398,-28.301,-28.222,-28.155,-28.097,-28.046,-27.699,-27.523,-27.398,-27.301,-27.222,-27.155,-27.097,-27.046,-26.699,-26.523,-26.398,-26.301,-26.222,-26.155,-26.097,-26.046,-25.699,-25.523,-25.398,-25.301,-25.222,-25.155,-25.097,-25.046,-24.699,-24.523,-24.398,-24.301,-24.222,-24.155,-24.097,-24.046], "offset": -3, "tickSize": 3}},
       "y2": {"datum": -31}}},
    {"data": {"name": "curves"}, "transform": [{"filter": "datum.p === 3"}],
     "mark": {"type": "area", "clip": true, "interpolate": "monotone", "fill": "#E76F51"},
     "encoding": {"x": {"field": "m", "type": "quantitative", "axis": {"orient": "top", "title": null, "values": [-35,-30,-25,-20,-15,-10], "labelExpr": "datum.value === -35 ? '10⁹' : datum.value === -30 ? '10⁴' : datum.value === -25 ? '10⁻¹' : datum.value === -20 ? '10⁻⁶' : datum.value === -15 ? '10⁻¹¹' : datum.value === -10 ? '10⁻¹⁶' : ''", "offset": -6, "tickSize": 6, "labelPadding": 4}},
       "y": {"field": "hi", "type": "quantitative", "axis": {"orient": "right", "title": null, "labels": false, "values": [-30,-29,-28,-27,-26,-25], "offset": -6, "tickSize": 6}},
       "y2": {"field": "lo"}}},
    {"data": {"name": "curves"}, "transform": [{"filter": "datum.p === 3"}],
     "mark": {"type": "line", "clip": true, "interpolate": "monotone", "strokeWidth": 1.2},
     "encoding": {
       "x": {"field": "m", "type": "quantitative", "axis": {"orient": "top", "title": null, "labels": false, "values": [-34,-33,-32,-31,-29,-28,-27,-26,-24,-23,-22,-21,-19,-18,-17,-16,-14,-13,-12,-11], "offset": -3, "tickSize": 3}},
       "y": {"field": "v", "type": "quantitative", "axis": {"orient": "right", "title": null, "labels": false, "values": [-30.398,-30.301,-30.222,-30.155,-30.097,-30.046,-29.699,-29.523,-29.398,-29.301,-29.222,-29.155,-29.097,-29.046,-28.699,-28.523,-28.398,-28.301,-28.222,-28.155,-28.097,-28.046,-27.699,-27.523,-27.398,-27.301,-27.222,-27.155,-27.097,-27.046,-26.699,-26.523,-26.398,-26.301,-26.222,-26.155,-26.097,-26.046,-25.699,-25.523,-25.398,-25.301,-25.222,-25.155,-25.097,-25.046,-24.699,-24.523,-24.398,-24.301,-24.222,-24.155,-24.097,-24.046], "offset": -3, "tickSize": 3}},
       "stroke": {"datum": "Vμτ = 1.12 × 10⁻¹⁴ eV (true)", "type": "nominal", "scale": {"range": ["#000000"]},
         "legend": {"title": null, "orient": "none", "legendX": 41, "legendY": 244, "symbolType": "M-1.45,0H1.45", "symbolSize": 230, "symbolStrokeWidth": 1.5, "labelFontSize": 12.5, "labelLimit": 400, "padding": 4.4, "symbolOffset": 4, "labelOffset": 13, "fillColor": "#E9CB80", "strokeColor": "#333333", "cornerRadius": 4}}
     }},
    {"data": {"values": [{}]}, "mark": {"type": "rect", "fill": "white", "stroke": "#222222", "strokeWidth": 1, "cornerRadius": 4},
     "encoding": {"x": {"datum": -34.2, "type": "quantitative", "axis": null}, "x2": {"datum": -28.1}, "y": {"datum": -24.55, "type": "quantitative", "axis": null}, "y2": {"datum": -25.14}}},
    {"data": {"name": "tags"}, "transform": [{"filter": "datum.p === 3 && datum.kind === 'main'"}],
     "mark": {"type": "text", "fontSize": 17, "fontStyle": "italic", "align": "left", "baseline": "alphabetic", "color": "black"},
     "encoding": {"x": {"field": "m", "type": "quantitative", "axis": null}, "y": {"field": "g", "type": "quantitative", "axis": null}, "text": {"field": "txt"}}},
    {"data": {"name": "tags"}, "transform": [{"filter": "datum.p === 3 && datum.kind === 'sub'"}],
     "mark": {"type": "text", "fontSize": 12, "fontStyle": "italic", "align": "left", "baseline": "alphabetic", "color": "black"},
     "encoding": {"x": {"field": "m", "type": "quantitative", "axis": null}, "y": {"field": "g", "type": "quantitative", "axis": null}, "text": {"field": "txt"}}}
  ]
}
]
}
